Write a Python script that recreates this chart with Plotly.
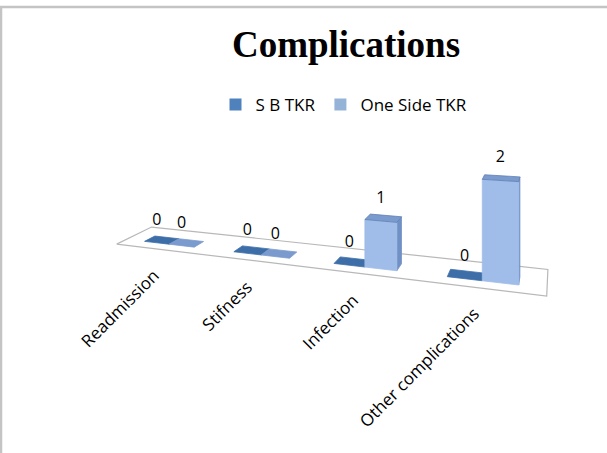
import numpy as np
import plotly.graph_objects as go

# ---------------- data ----------------
categories = ["Readmission", "Stifness", "Infection", "Other complications"]
series_names = ["S B TKR", "One Side TKR"]
sb_tkr = [0, 0, 0, 0]
one_side_tkr = [0, 0, 1, 2]

# ---------------- styles ----------------
FRONT = ["#4f81bd", "#9fbde8"]
SIDE = ["#3a6496", "#7191c6"]
TOP = ["#3d6ea8", "#7b9bce"]
LEGEND_COL = ["#4f81bd", "#95b3d7"]
FONT = "Open Sans"

# ---------------- 3D-look projection (floor-plane homography, fitted to the scene) ----------------
n = len(categories)
W0, W1 = 0.27, 0.57      # depth extent of the bars on the floor (0 = front, 1 = back)
GAP = 0.215              # gap at each side of a category cluster (fraction of category)
scene_uv = [(0, 0), (n, 0), (n, 1), (0, 1),
            (GAP, W0), (1 - GAP, W0), (1 + GAP, W0), (2 - GAP, W0),
            (2 + GAP, W0), (2.5, W0), (3 - GAP, W0),
            (3 + GAP, W0), (3.5, W0), (4 - GAP, W0)]
scene_px = [(113, 245), (546, 298), (548, 268), (150, 229),
            (148, 241), (197, 246), (235, 250), (290, 257),
            (333, 262), (364, 269), (395, 270),
            (447, 277), (483, 283), (520, 284)]
A, b = [], []
for (u, w), (x, y) in zip(scene_uv, scene_px):
    A.append([u, w, 1, 0, 0, 0, -u * x, -w * x]); b.append(x)
    A.append([0, 0, 0, u, w, 1, -u * y, -w * y]); b.append(y)
sol = np.linalg.lstsq(np.array(A, float), np.array(b, float), rcond=None)[0]
H = np.append(sol, 1).reshape(3, 3)


def denom(u, w):
    return (H @ np.array([u, w, 1.0]))[2]


K = 48 * denom(2.65, W0)  # vertical pixels per unit value (perspective-scaled)


def proj(u, w, v):
    X = H @ np.array([u, w, 1.0])
    return X[0] / X[2], X[1] / X[2] - v * K / X[2]


fig = go.Figure()


def poly(pts, fill, line, width=0.8):
    xs = [p[0] for p in pts] + [pts[0][0]]
    ys = [p[1] for p in pts] + [pts[0][1]]
    fig.add_trace(go.Scatter(x=xs, y=ys, mode="lines", fill="toself", fillcolor=fill,
                             line=dict(color=line, width=width), showlegend=False,
                             hoverinfo="skip"))


# floor
poly([proj(0, 0, 0), proj(n, 0, 0), proj(n, 1, 0), proj(0, 1, 0)], "#ffffff", "#b8b8b8", 1.2)

series = [sb_tkr, one_side_tkr]
label_x, label_y, label_t = [], [], []
for i in range(n):
    for s, vals in enumerate(series):
        v = vals[i]
        u0 = i + GAP + s * (0.5 - GAP)
        u1 = u0 + (0.5 - GAP)
        if v > 0:
            poly([proj(u1, W0, 0), proj(u1, W1, 0), proj(u1, W1, v), proj(u1, W0, v)],
                 SIDE[s], SIDE[s])
            poly([proj(u0, W0, 0), proj(u1, W0, 0), proj(u1, W0, v), proj(u0, W0, v)],
                 FRONT[s], FRONT[s])
        poly([proj(u0, W0, v), proj(u1, W0, v), proj(u1, W1, v), proj(u0, W1, v)],
             TOP[s], "#5f7fb2" if v > 0 else TOP[s])
        lx, ly = proj((u0 + u1) / 2, W0, v)
        label_x.append(lx)
        label_y.append(ly - 22)
        label_t.append(str(v))

fig.add_trace(go.Scatter(x=label_x, y=label_y, text=label_t, mode="text",
                         textfont=dict(family=FONT, size=16, color="#000000"),
                         showlegend=False, hoverinfo="skip"))

# legend entries
for s in range(2):
    fig.add_trace(go.Scatter(x=[None], y=[None], mode="markers", name=series_names[s],
                             marker=dict(symbol="square", size=12, color=LEGEND_COL[s])))

# category labels (rotated, ending under each cluster)
annotations = []
for i, c in enumerate(categories):
    x, y = proj(i + 0.5, 0, 0)
    annotations.append(dict(x=x + 6, y=y + 12, xref="x", yref="y", text=c, showarrow=False,
                            textangle=-45, xanchor="right", yanchor="top",
                            font=dict(family=FONT, size=17, color="#000000")))

fig.update_layout(
    width=607, height=453,
    margin=dict(l=0, r=0, t=0, b=0),
    paper_bgcolor="#ffffff", plot_bgcolor="#ffffff",
    title=dict(text="<b>Complications</b>", x=346 / 607, xanchor="center",
               y=1 - 44 / 453, yanchor="middle",
               font=dict(family="Liberation Serif", size=37, color="#000000")),
    xaxis=dict(range=[0, 607], visible=False, fixedrange=True),
    yaxis=dict(range=[453, 0], visible=False, fixedrange=True),
    showlegend=True,
    legend=dict(orientation="h", x=344 / 607, xanchor="center", y=1 - 87 / 453, yanchor="top",
                font=dict(family=FONT, size=17, color="#000000"), itemwidth=30,
                bgcolor="rgba(0,0,0,0)"),
    annotations=annotations,
    shapes=[
        dict(type="line", xref="x", yref="y", x0=0, x1=607, y0=7, y1=7,
             line=dict(color="#c4c4c4", width=2.5)),
        dict(type="line", xref="x", yref="y", x0=1, x1=1, y0=7, y1=453,
             line=dict(color="#c4c4c4", width=2.5)),
    ],
)

fig.write_html("out.html")
